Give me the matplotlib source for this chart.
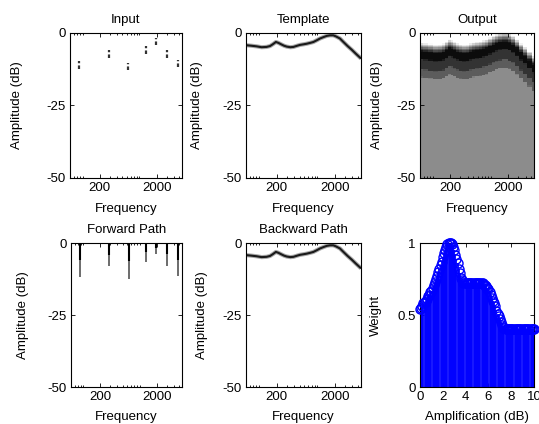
import numpy as np
import matplotlib
matplotlib.use('Agg')
import matplotlib.pyplot as plt
from matplotlib.ticker import FixedLocator, LogLocator, NullFormatter

plt.rcParams['font.family'] = ['Liberation Sans', 'DejaVu Sans']
plt.rcParams['font.size'] = 9.5

# input spectrum, one value per band
input_freq = [85, 286, 633, 1292, 1936, 3055, 4766]
input_db = [-11.0, -7.3, -11.6, -5.9, -3.0, -7.2, -10.5]

# template spectrum (also the backward path)
template_freq = [60, 75, 91, 111, 135, 155, 175, 195, 215, 240, 270, 300, 345, 390, 450,
                 506, 580, 658, 756, 856, 980, 1110, 1280, 1450, 1650, 1880, 2100, 2440,
                 2800, 3300, 3900, 4600, 5600]
template_db = [-4.2, -4.4, -4.6, -4.9, -4.8, -4.5, -3.8, -3.1, -3.4, -3.9, -4.4, -4.7, -4.9,
               -4.8, -4.4, -4.1, -3.9, -3.7, -3.4, -3.1, -2.5, -1.9, -1.4, -1.0, -0.8, -0.8,
               -1.2, -1.9, -3.1, -4.5, -5.8, -7.2, -8.8]

# output band: grey level against distance (dB) from the shifted template
band_shift = -3.4
band_offset = [-60, -7.8, -7.6, -5.0, -4.8, -1.6, -1.2, 1.2, 2.6, 4.3, 60]
band_gray = [0.55, 0.55, 0.36, 0.36, 0.2, 0.2, 0.05, 0.05, 0.45, 1.0, 1.0]

# weighting over amplification
amp_db = np.round(np.arange(0, 10.01, 0.1), 1)
weight = [0.54, 0.55, 0.56, 0.58, 0.59, 0.60, 0.61, 0.63, 0.64, 0.66,
          0.67, 0.69, 0.71, 0.73, 0.75, 0.77, 0.80, 0.82, 0.85, 0.87,
          0.90, 0.93, 0.95, 0.97, 0.99, 1.00, 1.00, 1.00, 0.99, 0.97,
          0.95, 0.92, 0.89, 0.86, 0.82, 0.79, 0.76, 0.74, 0.73, 0.72,
          0.72, 0.72, 0.72, 0.72, 0.72, 0.72, 0.72, 0.72, 0.72, 0.72,
          0.72, 0.72, 0.72, 0.72, 0.72, 0.72, 0.71, 0.71, 0.70, 0.69,
          0.68, 0.66, 0.64, 0.62, 0.60, 0.58, 0.56, 0.53, 0.51, 0.49,
          0.47, 0.45, 0.43, 0.42, 0.41, 0.405, 0.40, 0.40, 0.40, 0.40,
          0.40, 0.40, 0.40, 0.40, 0.40, 0.40, 0.40, 0.40, 0.40, 0.40,
          0.40, 0.40, 0.40, 0.40, 0.40, 0.40, 0.40, 0.40, 0.40, 0.40,
          0.40]

W, H = 539, 424
fig = plt.figure(figsize=(W / 100, H / 100), dpi=100)


def box(l, t, r, b):
    return [l / W, 1 - b / H, (r - l) / W, (b - t) / H]


def style(ax, title, ylab, ylab_x):
    ax.set_title(title, pad=7, fontsize=9.5)
    ax.tick_params(which='both', direction='in', top=True, right=True, width=0.6)
    ax.tick_params(which='major', length=3, pad=3)
    ax.tick_params(which='minor', length=1.5)
    for s in ax.spines.values():
        s.set_linewidth(0.8)
    ax.set_ylabel(ylab)
    ax.yaxis.set_label_coords(ylab_x, 0.5)


def freq_axes(ax, title, ylab_x, xlab_y):
    ax.set_xscale('log')
    ax.set_xlim(60, 5600)
    ax.set_ylim(-50, 0)
    ax.xaxis.set_major_locator(FixedLocator([200, 2000]))
    ax.set_xticklabels(['200', '2000'])
    ax.xaxis.set_minor_locator(LogLocator(subs=np.arange(1, 10)))
    ax.xaxis.set_minor_formatter(NullFormatter())
    ax.set_yticks([-50, -25, 0])
    ax.set_yticklabels(['-50', '-25', '0'])
    style(ax, title, 'Amplitude (dB)', ylab_x)
    ax.set_xlabel('Frequency')
    ax.xaxis.set_label_coords(0.5, xlab_y)


ax1 = fig.add_axes(box(70, 33, 182, 178))
ax2 = fig.add_axes(box(246, 33, 361, 178))
ax3 = fig.add_axes(box(420, 33, 534, 178))
ax4 = fig.add_axes(box(71, 243, 182, 387))
ax5 = fig.add_axes(box(246, 243, 361, 387))
ax6 = fig.add_axes(box(420, 243, 534, 387))

inp = np.array(input_db)

# Input
ax1.vlines(input_freq, inp - 1.3, inp + 1.3, colors='#333333', lw=1.6,
           linestyles=(0, (1.6, 1.0)))
freq_axes(ax1, 'Input', (23 - 70) / 112, -0.17)

# Template
ax2.plot(template_freq, template_db, color='#aaaaaa', lw=3.0, solid_capstyle='butt')
ax2.plot(template_freq, template_db, color='#1a1a1a', lw=1.5, solid_capstyle='butt')
freq_axes(ax2, 'Template', (203 - 246) / 115, -0.17)

# Output
tf = np.array(template_freq, dtype=float)
xedges = np.concatenate([[60], np.sqrt(tf[:-1] * tf[1:]), [5600]])
yedges = np.arange(-50, 0.01, 0.5)
ycent = (yedges[:-1] + yedges[1:]) / 2
rel = ycent[:, None] - (np.array(template_db)[None, :] + band_shift)
img = np.interp(rel, band_offset, band_gray)
ax3.pcolormesh(xedges, yedges, img, cmap='gray', vmin=0, vmax=1, shading='flat')
freq_axes(ax3, 'Output', (383 - 420) / 114, -0.17)

# Forward Path
ax4.vlines(input_freq, inp * 0.55, 0, colors='#000000', lw=1.5)
ax4.vlines(input_freq, inp - 0.8, inp * 0.55, colors='#444444', lw=1.1)
freq_axes(ax4, 'Forward Path', (29 - 71) / 111, -0.17)

# Backward Path
ax5.plot(template_freq, template_db, color='#aaaaaa', lw=3.0, solid_capstyle='butt')
ax5.plot(template_freq, template_db, color='#1a1a1a', lw=1.5, solid_capstyle='butt')
freq_axes(ax5, 'Backward Path', (208 - 246) / 115, -0.17)

# Weight
markerline, stemlines, baseline = ax6.stem(amp_db, weight, basefmt=' ')
plt.setp(stemlines, color='#0000ff', lw=1.3)
plt.setp(markerline, color='#0000ff', marker='o', mfc='none', ms=6.5, mew=1.0,
         clip_on=False, zorder=3)
ax6.set_xlim(0, 10)
ax6.set_ylim(0, 1)
ax6.set_xticks([0, 2, 4, 6, 8, 10])
ax6.set_yticks([0, 0.5, 1])
ax6.set_yticklabels(['0', '0.5', '1'])
style(ax6, '', 'Weight', (382 - 420) / 114)
ax6.set_xlabel('Amplification (dB)')
ax6.xaxis.set_label_coords(0.5, -0.17)

fig.savefig('out.png', dpi=100)
